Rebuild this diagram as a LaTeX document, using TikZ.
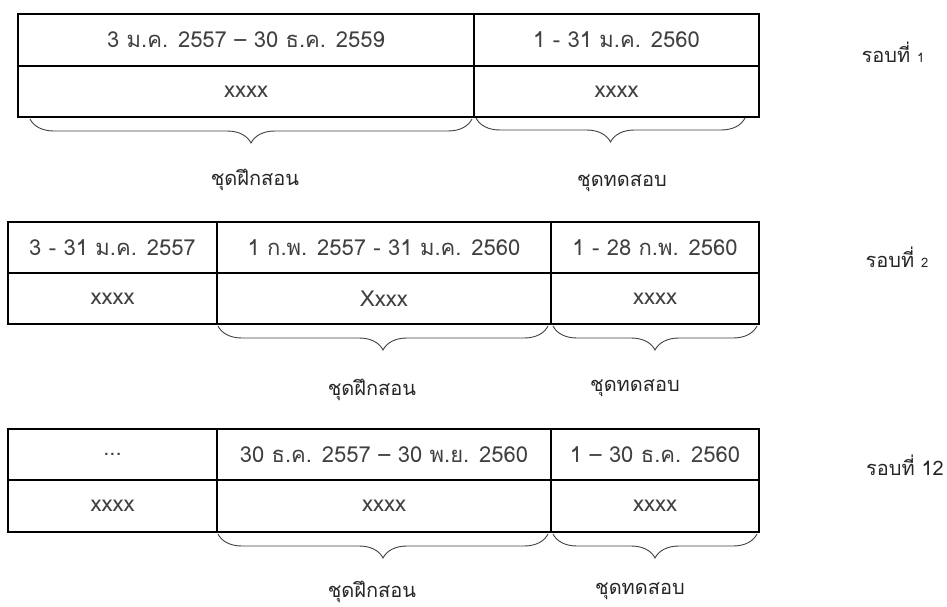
\documentclass[tikz,border=0pt]{standalone}
\usepackage{fontspec}
\setmainfont[Script=Thai]{Loma}
\newfontfamily\thlabel[Script=Thai]{Loma}
\usetikzlibrary{decorations.pathreplacing}
\definecolor{txtgray}{HTML}{404040}
\tikzset{
  cell/.style={draw=black, line width=1.1pt, inner sep=0pt, outer sep=0pt,
    text=txtgray, font=\fontsize{22}{24}\selectfont},
  setbrace/.style={draw=txtgray, line width=0.9pt,
    decorate, decoration={brace, mirror, amplitude=24pt}},
  setlabel/.style={text=black!85, font=\thlabel\fontsize{20}{22}\selectfont},
  roundlabel/.style={text=black!85, font=\thlabel\fontsize{20}{22}\selectfont}
}
\begin{document}
\begin{tikzpicture}[x=1pt, y=-1pt]
\useasboundingbox (0,0) rectangle (947,607);
% ---- round 1
\node[cell, minimum width=456pt, minimum height=52pt] (r1a) at (246,40) {3 ม.ค. 2557 – 30 ธ.ค. 2559};
\node[cell, minimum width=285pt, minimum height=52pt] (r1b) at (616.5,40) {1 - 31 ม.ค. 2560};
\node[cell, minimum width=456pt, minimum height=51pt] (r1c) at (246,91.5) {xxxx};
\node[cell, minimum width=285pt, minimum height=51pt] (r1d) at (616.5,91.5) {xxxx};
\coordinate (b1s) at (30,119);
\coordinate (b1e) at (472,119);
\coordinate (b2s) at (476,118);
\coordinate (b2e) at (745,118);
\draw[setbrace] (b1s) -- (b1e);
\draw[setbrace] (b2s) -- (b2e);
\node[setlabel] (l1a) at (255,180) {ชุดฝึกสอน};
\node[setlabel] (l1b) at (622,183) {ชุดทดสอบ};
\node[roundlabel] (rd1) at (893,52) {รอบที่ {\fontsize{13}{15}\selectfont 1}};
% ---- round 2
\node[cell, minimum width=209pt, minimum height=51pt] (r2a) at (112.5,247.5) {3 - 31 ม.ค. 2557};
\node[cell, minimum width=334pt, minimum height=51pt] (r2b) at (384,247.5) {1 ก.พ. 2557 - 31 ม.ค. 2560};
\node[cell, minimum width=208pt, minimum height=51pt] (r2c) at (655,247.5) {1 - 28 ก.พ. 2560};
\node[cell, minimum width=209pt, minimum height=51pt] (r2d) at (112.5,298.5) {xxxx};
\node[cell, minimum width=334pt, minimum height=51pt] (r2e) at (384,298.5) {Xxxx};
\node[cell, minimum width=208pt, minimum height=51pt] (r2f) at (655,298.5) {xxxx};
\coordinate (b3s) at (218,326);
\coordinate (b3e) at (548,326);
\coordinate (b4s) at (553,326);
\coordinate (b4e) at (757,326);
\draw[setbrace] (b3s) -- (b3e);
\draw[setbrace] (b4s) -- (b4e);
\node[setlabel] (l2a) at (372,390) {ชุดฝึกสอน};
\node[setlabel] (l2b) at (635,388) {ชุดทดสอบ};
\node[roundlabel] (rd2) at (897,257) {รอบที่ {\fontsize{13}{15}\selectfont 2}};
% ---- round 12
\node[cell, minimum width=209pt, minimum height=51pt] (r3a) at (112.5,454.5) {...};
\node[cell, minimum width=334pt, minimum height=51pt] (r3b) at (384,454.5) {30 ธ.ค. 2557 – 30 พ.ย. 2560};
\node[cell, minimum width=208pt, minimum height=51pt] (r3c) at (655,454.5) {1 – 30 ธ.ค. 2560};
\node[cell, minimum width=209pt, minimum height=52pt] (r3d) at (112.5,506) {xxxx};
\node[cell, minimum width=334pt, minimum height=52pt] (r3e) at (384,506) {xxxx};
\node[cell, minimum width=208pt, minimum height=52pt] (r3f) at (655,506) {xxxx};
\coordinate (b5s) at (218,534);
\coordinate (b5e) at (548,534);
\coordinate (b6s) at (553,534);
\coordinate (b6e) at (757,534);
\draw[setbrace] (b5s) -- (b5e);
\draw[setbrace] (b6s) -- (b6e);
\node[setlabel] (l3a) at (372,592) {ชุดฝึกสอน};
\node[setlabel] (l3b) at (640,591) {ชุดทดสอบ};
\node[roundlabel] (rd3) at (905,465) {รอบที่ 12};
\end{tikzpicture}
\end{document}
